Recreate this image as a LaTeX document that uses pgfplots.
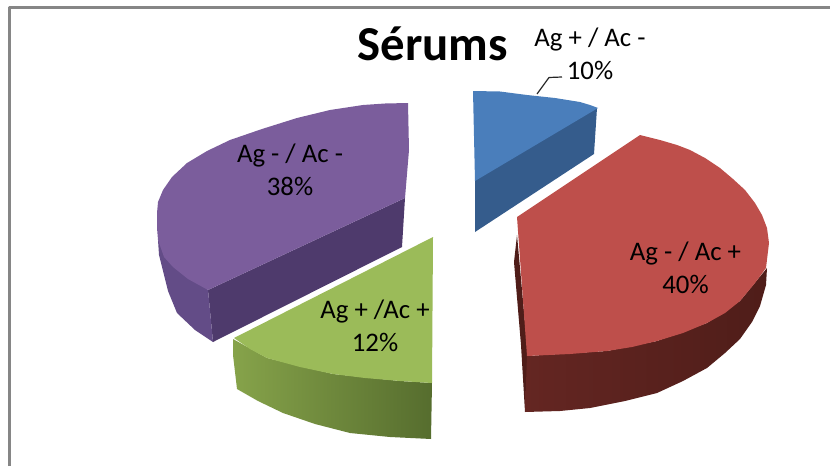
\documentclass[border=0pt]{standalone}
\usepackage{fontspec}
\setmainfont{Carlito}
\usepackage{pgfplots}
\pgfplotsset{compat=1.18}
\definecolor{bluetop}{HTML}{4A7EBB}
\definecolor{blueside}{HTML}{355C8C}
\definecolor{redtop}{HTML}{BE4F4B}
\definecolor{redsideA}{HTML}{4F1D19}
\definecolor{redsideB}{HTML}{642622}
\definecolor{greentop}{HTML}{9BBB59}
\definecolor{greensideA}{HTML}{86A34A}
\definecolor{greensideB}{HTML}{566D2E}
\definecolor{purpletop}{HTML}{7B5D9C}
\definecolor{purplesideA}{HTML}{634C87}
\definecolor{purplesideB}{HTML}{4E3A6C}
\definecolor{framegray}{HTML}{868686}
\tikzset{lab/.style={align=center,font=\fontsize{26.8}{33}\selectfont,text=black,inner sep=0pt}}
\begin{document}
\begin{tikzpicture}
\useasboundingbox (0,0) rectangle (830pt,466pt);
\begin{axis}[
  at={(0,0)},anchor=south west,
  width=830pt,height=466pt,scale only axis,
  xmin=0,xmax=830,ymin=0,ymax=466,y dir=reverse,
  hide axis,clip=true,
  every axis plot/.append style={line join=round},
]
% frame
\addplot[framegray,line width=2.2pt] coordinates {(9.5,466)(9.5,7.5)(830,7.5)};
% blue slice
\addplot[fill=blueside,draw=none] coordinates {(597,108)(594,154)(475,232)(475,180)} --cycle;
\addplot[fill=bluetop,draw=none] coordinates {(473,91)(500,91.5)(527,95)(555,98)(580,102)(590,105)(598,108)(475,181)} --cycle;
% red slice
\addplot[fill=redsideA,draw=none] coordinates {(517,235)(514,262)(521,345)(525,412)(528,356)} --cycle;
\addplot[left color=redsideB,right color=redsideA,draw=none] coordinates {(527,356)(607,351)(657,341)(707,323)(740,301)(767,268)(766,285)(760,306)(752,322)(740,339)(725,353)(707,368)(683,381)(657,393)(625,401)(590,408)(560,411)(525,412)} --cycle;
\addplot[fill=redtop,draw=none] coordinates {(640,135)(660,140)(677,145)(690,150)(705,158)(720,168)(733,179)(745,190)(755,203)(762,215)(767,228)(769,243)(766,268)(755,283)(740,301)(725,313)(707,323)(683,333)(657,341)(632,347)(607,351)(570,354)(527,356)(517,217)} --cycle;
% purple slice
\addplot[fill=purplesideB,draw=none] coordinates {(405,198)(402,247)(213,342)(208,290)} --cycle;
\addplot[fill=purplesideA,draw=none] coordinates {(158,240)(159,255)(162,267)(168,291)(177,313)(195,330)(213,342)(208,290)} --cycle;
\addplot[fill=purpletop,draw=none] coordinates {(408,103)(385,103.5)(363,105)(330,110)(297,118)(262,129)(230,140)(207,151)(187,163)(172,177)(163,190)(158,202)(157,213)(157,228)(158,240)(164,257)(173,267)(188,279)(208,290)(405,198)(409,150)} --cycle;
% green slice
\addplot[left color=greensideA,right color=greensideB,draw=none] coordinates {(233,339)(233,355)(237,389)(258,401)(283,413)(315,424)(350,433)(390,437)(431,439)(432,383)(400,381)(333,374)(267,358)} --cycle;
\addplot[fill=greentop,draw=none] coordinates {(433,237)(234,338)(250,349)(267,358)(300,367)(333,374)(365,378)(400,381)(432,383)} --cycle;
% leader line
\addplot[black!85,line width=1.2pt] coordinates {(537,94)(549,77.5)(562,77)};
% text
\node[font=\fontsize{48.8}{52}\selectfont\bfseries,text=black,inner sep=0pt] at (axis cs:433,44) {Sérums};
\node[lab] at (axis cs:590,54) {Ag + / Ac -\\10\%};
\node[lab] at (axis cs:685.5,268) {Ag - / Ac +\\40\%};
\node[lab] at (axis cs:290,170) {Ag - / Ac -\\38\%};
\node[lab] at (axis cs:375,326) {Ag + /Ac +\\12\%};
\end{axis}
\end{tikzpicture}
\end{document}
